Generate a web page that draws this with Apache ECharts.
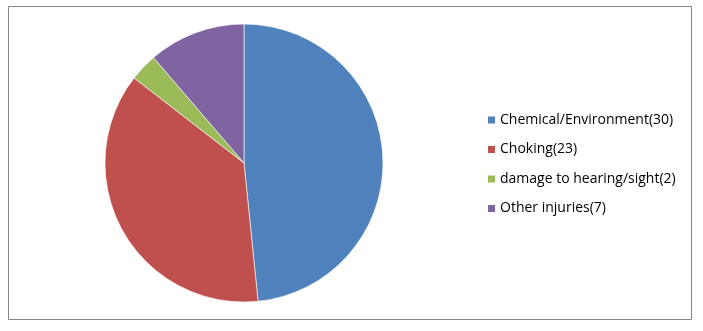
<!DOCTYPE html>
<html><head><meta charset="utf-8">
<script src="https://cdn.jsdelivr.net/npm/echarts@6/dist/echarts.min.js"></script>
<style>html,body{margin:0;padding:0;background:#fff}#c{width:703px;height:331px}</style>
</head><body><div id="c"></div>
<script>
const categories = ["Chemical/Environment(30)", "Choking(23)", "damage to hearing/sight(2)", "Other injuries(7)"];
const values = [30, 23, 2, 7];
const colors = ["#4F81BD", "#C0504D", "#9BBB59", "#8064A2"];
const chart = echarts.init(document.getElementById('c'), null, {renderer: 'canvas'});
chart.setOption({
  animation: false,
  color: colors,
  graphic: [{type: 'rect', shape: {x: 8.5, y: 6.5, width: 683, height: 313}, style: {fill: 'none', stroke: '#868686', lineWidth: 1}, silent: true}],
  legend: {
    orient: 'vertical', left: 486, top: 111.5, padding: 0,
    itemWidth: 9, itemHeight: 9, itemGap: 12.5,
    icon: 'rect',
    data: categories,
    textStyle: {fontFamily: 'Open Sans', fontSize: 14, color: '#000', lineHeight: 17, padding: [0,0,0,-1]}
  },
  series: [{
    type: 'pie', center: [244, 163], radius: 139, startAngle: 90, clockwise: true,
    label: {show: false}, labelLine: {show: false},
    itemStyle: {borderColor: '#fff', borderWidth: 0.6},
    emphasis: {disabled: true},
    data: categories.map((n, i) => ({name: n, value: values[i]}))
  }]
});
</script></body></html>
